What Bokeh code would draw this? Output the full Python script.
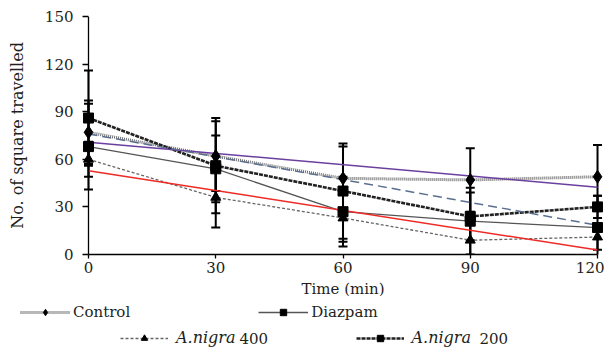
import numpy as np
from bokeh.plotting import figure
from bokeh.layouts import column
from bokeh.models import (ColumnDataSource, Whisker, TeeHead, FixedTicker, Legend,
                          LegendItem, Label, Range1d, Span)
from bokeh.core.properties import value
from bokeh.embed import file_html
from bokeh.resources import INLINE

# ---- data ----
time = [0, 30, 60, 90, 120]
control = [77, 62, 48, 47, 49]
control_err = [20, 22, 20, 20, 20]
diazepam = [68, 54, 27, 21, 17]
diazepam_err = [27, 21, 22, 21, 20]
nigra400 = [60, 36, 23, 9, 11]
nigra400_err = [11, 19, 15, 10, 8]
nigra200 = [86, 56, 40, 24, 30]
nigra200_err = [30, 30, 30, 15, 7]
x_ticks = [0, 30, 60, 90, 120]
y_ticks = [0, 30, 60, 90, 120, 150]
y_label = "No. of square travelled"
x_label = "Time (min)"

FONT = "DejaVu Serif"
TXT = "#231f20"

STYLE = {
    "control": dict(line=dict(line_color="#707070", line_width=3, line_dash="1 1"),
                    marker=dict(marker="diamond", size=13, color="black")),
    "diazepam": dict(line=dict(line_color="#555555", line_width=1.3, line_dash="solid"),
                     marker=dict(marker="square", size=10, color="black")),
    "nigra400": dict(line=dict(line_color="#666666", line_width=1.3, line_dash="3 2"),
                     marker=dict(marker="triangle", size=10, color="black")),
    "nigra200": dict(line=dict(line_color="#222222", line_width=2.6, line_dash="4 1"),
                     marker=dict(marker="square", size=10, color="black")),
}

p = figure(width=604, height=300, output_backend="svg", toolbar_location=None,
           x_range=Range1d(-1.414, 121.41), y_range=Range1d(0, 150),
           min_border_left=82, min_border_right=1, min_border_top=16, min_border_bottom=46)
p.outline_line_color = None
p.grid.visible = False
p.frame_align = False

# axes
for ax in (p.xaxis, p.yaxis):
    ax.axis_line_color = "black"
    ax.axis_line_width = 1.3
    ax.major_tick_line_color = "black"
    ax.major_tick_line_width = 1.3
    ax.minor_tick_line_color = None
    ax.major_label_text_font = FONT
    ax.major_label_text_font_size = "15px"
    ax.major_label_text_color = TXT
    ax.axis_label_text_font = FONT
    ax.axis_label_text_font_size = "15px"
    ax.axis_label_text_font_style = "normal"
    ax.axis_label_text_color = TXT

p.yaxis.axis_line_color = None
p.yaxis.ticker = FixedTicker(ticks=y_ticks)
p.yaxis.major_tick_in = 6
p.yaxis.major_tick_out = 0
p.yaxis.major_label_standoff = 9
p.yaxis.axis_label = y_label
p.yaxis.axis_label_standoff = 15
p.yaxis.axis_label_text_font_size = "16px"
p.add_layout(Span(location=0, dimension="height", line_color="black", line_width=1.3))

p.xaxis.bounds = (0, 120)
p.xaxis.ticker = FixedTicker(ticks=x_ticks)
p.xaxis.major_tick_in = 0
p.xaxis.major_tick_out = 4
p.xaxis.major_label_standoff = 3
p.xaxis.axis_label = x_label
p.xaxis.axis_label_standoff = 4

series_list = [("control", control, control_err), ("diazepam", diazepam, diazepam_err),
               ("nigra400", nigra400, nigra400_err), ("nigra200", nigra200, nigra200_err)]

# series lines
for key, ys, _ in series_list:
    p.line(time, ys, **STYLE[key]["line"])

# linear trend lines (least-squares fits of the series)
ends = [time[0], time[-1]]
for series, col, dash in ((control, "#6b3fa0", "solid"),
                          (nigra400, "#ee2a24", "solid"),
                          (nigra200, "#5a6f8f", "9 5")):
    k, b = np.polyfit(time, series, 1)
    p.line(ends, [k * t + b for t in ends], line_color=col, line_width=1.5, line_dash=dash)

# error bars
for key, ys, err in series_list:
    src = ColumnDataSource(dict(x=time,
                                upper=[v + e for v, e in zip(ys, err)],
                                lower=[v - e for v, e in zip(ys, err)]))
    p.add_layout(Whisker(base="x", upper="upper", lower="lower", source=src,
                         line_color="black", line_width=2,
                         upper_head=TeeHead(size=9, line_color="black", line_width=2),
                         lower_head=TeeHead(size=9, line_color="black", line_width=2)))

# markers
for key, ys, _ in series_list:
    p.scatter(time, ys, **STYLE[key]["marker"])

# ---- legend strip below the chart ----
lg = figure(width=604, height=49, output_backend="svg", toolbar_location=None,
            x_range=Range1d(0, 1), y_range=Range1d(0, 1),
            min_border_left=0, min_border_right=0, min_border_top=0, min_border_bottom=0)
lg.axis.visible = False
lg.grid.visible = False
lg.outline_line_color = None
lg.frame_align = False

rend = {}
for key in STYLE:
    # legend-sample renderers only (a single NaN point: nothing is drawn on the canvas)
    blank = ColumnDataSource(dict(x=[float("nan")], y=[float("nan")]))
    rend[key] = [lg.line("x", "y", source=blank, **STYLE[key]["line"]),
                 lg.scatter("x", "y", source=blank, **STYLE[key]["marker"])]

common = dict(orientation="horizontal", padding=0, margin=0, border_line_alpha=0,
              background_fill_alpha=0, label_text_font=FONT,
              label_text_color=TXT, glyph_height=16, label_height=16)

leg1 = Legend(items=[LegendItem(label=value("Control"), renderers=rend["control"]),
                     LegendItem(label=value("Diazpam"), renderers=rend["diazepam"])],
              location=(20, 28), glyph_width=50, label_standoff=3, spacing=128,
              label_text_font_size="15px", **common)
lg.add_layout(leg1)

leg2 = Legend(items=[LegendItem(label=value("A.nigra"), renderers=rend["nigra400"]),
                     LegendItem(label=value("A.nigra"), renderers=rend["nigra200"])],
              location=(120, 2), glyph_width=48, label_standoff=8, spacing=120,
              label_text_font_size="16px", label_text_font_style="italic", **common)
lg.add_layout(leg2)

for x, txt in ((239, "400"), (479, "200")):
    lg.add_layout(Label(x=x, y=11, x_units="screen", y_units="screen", text=txt,
                        text_font=FONT, text_font_size="15px",
                        text_color=TXT, text_baseline="middle"))

layout = column(p, lg, spacing=0)
open("out.html", "w").write(file_html(layout, INLINE))
